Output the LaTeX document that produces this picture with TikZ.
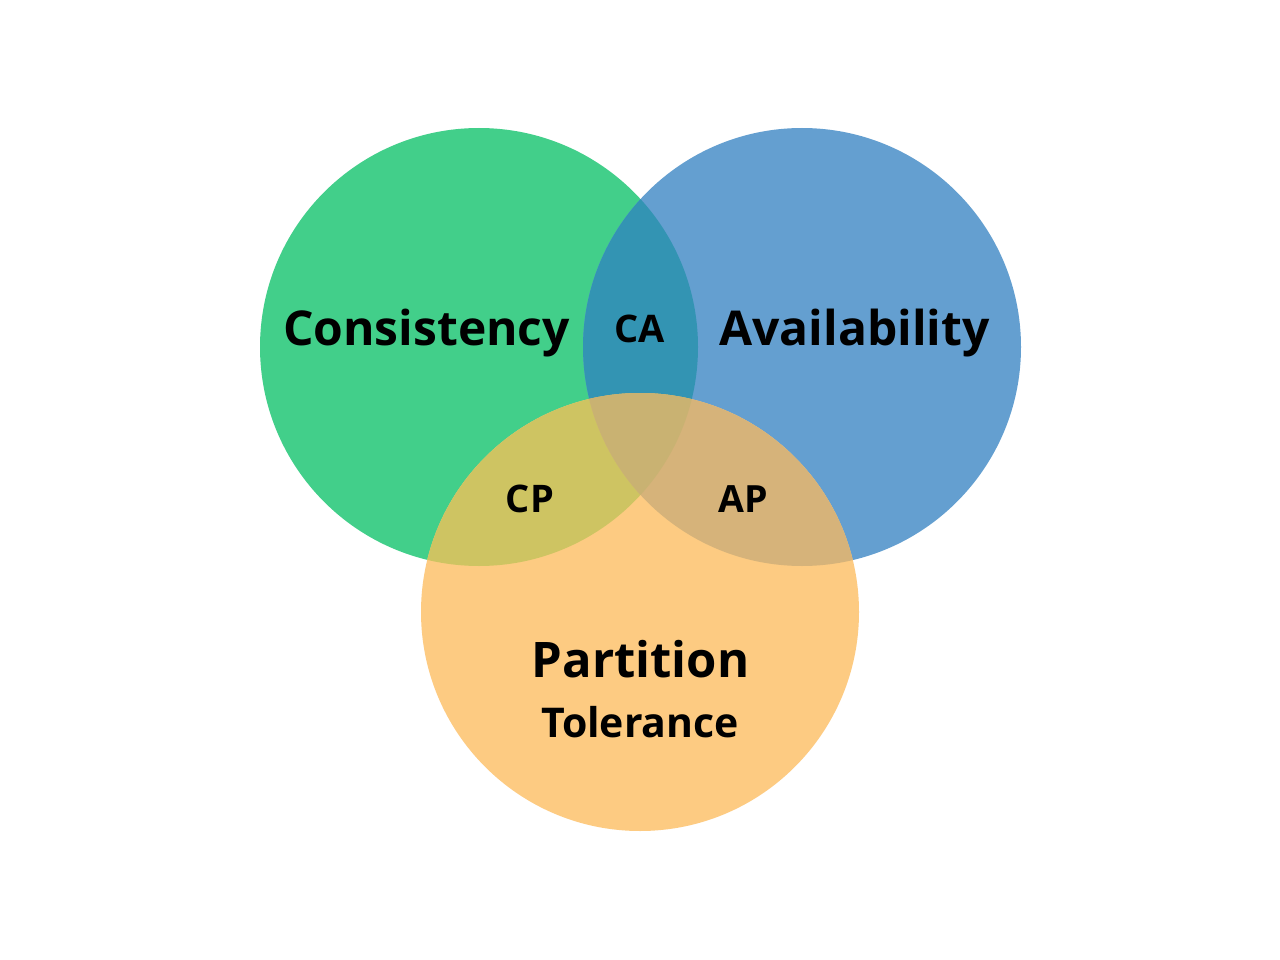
\documentclass[tikz,border=0pt]{standalone}
\usepackage{fontspec}
\setmainfont{Open Sans}
\definecolor{cgreen}{HTML}{42CF8A}
\definecolor{cblue}{HTML}{649FD0}
\definecolor{corange}{HTML}{FDCB82}
\definecolor{ccacol}{HTML}{3394B3}
\definecolor{ccpcol}{HTML}{CEC462}
\definecolor{capcol}{HTML}{D6B37A}
\definecolor{ccentercol}{HTML}{C9B272}
\begin{document}
\begin{tikzpicture}[x=1pt,y=-1pt,
  lbl/.style={inner sep=0pt, anchor=base, text=black}]
\useasboundingbox (0,0) rectangle (1280,960);
\fill[white] (0,0) rectangle (1280,960);
\coordinate (G) at (479,347);
\coordinate (B) at (802,347);
\coordinate (O) at (640,612);
\def\R{219}
\fill[cgreen] (G) circle (\R);
\fill[cblue] (B) circle (\R);
\fill[corange] (O) circle (\R);
\begin{scope}
  \clip (G) circle (\R);
  \fill[ccacol] (B) circle (\R);
  \fill[ccpcol] (O) circle (\R);
\end{scope}
\begin{scope}
  \clip (B) circle (\R);
  \fill[capcol] (O) circle (\R);
\end{scope}
\begin{scope}
  \clip (G) circle (\R);
  \clip (B) circle (\R);
  \fill[ccentercol] (O) circle (\R);
\end{scope}
\node[lbl, font=\fontsize{48}{54}\selectfont\bfseries] (cons) at (426.5,345) {Consistency};
\node[lbl, font=\fontsize{48}{54}\selectfont\bfseries] (avail) at (854.5,345) {Availability};
\node[lbl, font=\fontsize{38}{44}\selectfont\bfseries] (ca) at (640,342) {CA};
\node[lbl, font=\fontsize{38}{44}\selectfont\bfseries] (cp) at (530,512) {CP};
\node[lbl, font=\fontsize{37.5}{44}\selectfont\bfseries] (apn) at (743,512) {AP};
\node[lbl, font=\fontsize{49}{56}\selectfont\bfseries] (part) at (640.5,677) {Partition};
\node[lbl, font=\fontsize{41}{48}\selectfont\bfseries] (tol) at (640,737) {Tolerance};
\end{tikzpicture}
\end{document}
